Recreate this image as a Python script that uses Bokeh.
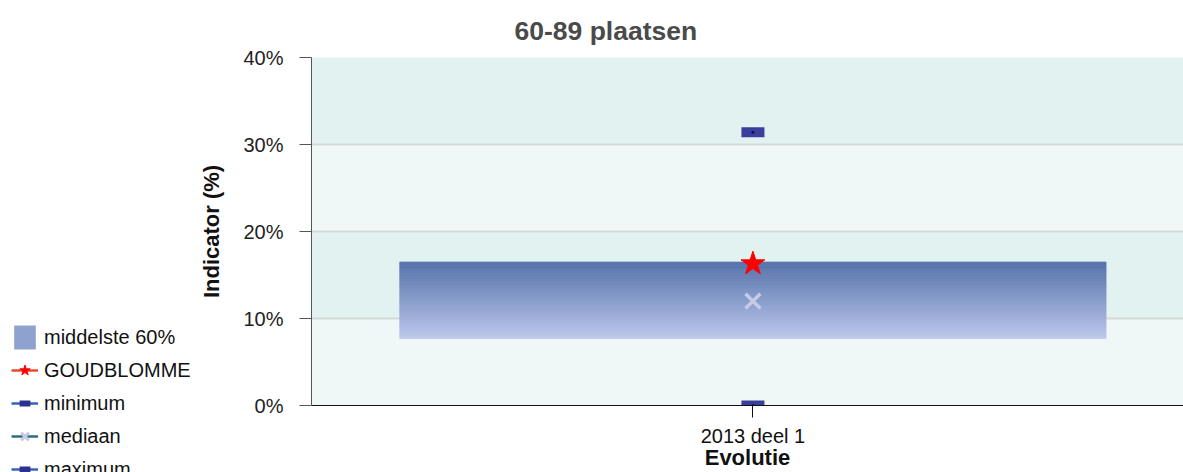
from bokeh.plotting import figure
from bokeh.layouts import row
from bokeh.models import (Range1d, FixedTicker, PrintfTickFormatter, Legend, LegendItem,
                          ColumnDataSource, Title)
from bokeh.embed import file_html
from bokeh.resources import INLINE

# ---- data ----
categories = ["2013 deel 1"]
p20 = [7.7]          # bottom of middle 60%
p80 = [16.5]         # top of middle 60%
goudblomme = [16.3]
minimum = [0.0]
mediaan = [12.0]
maximum = [31.4]
y_ticks = [0, 10, 20, 30, 40]

FONT = "Liberation Sans"
x = list(range(len(categories)))

LEG_W = 195
p = figure(width=1183 - LEG_W, height=472, output_backend="svg", toolbar_location=None,
           x_range=Range1d(-0.5, 0.4877), y_range=Range1d(0, 40),
           min_border_left=311 - LEG_W, min_border_right=0, min_border_top=57, min_border_bottom=66)
p.outline_line_color = None
p.background_fill_color = "#f0f8f7"
p.border_fill_color = "white"

t = Title(text="60-89 plaatsen", align="left", offset=203, text_font=FONT,
          text_font_size="26.5px", text_font_style="bold", text_color="#4a4a4a",
          standoff=20, vertical_align="top")
p.add_layout(t, "above")

# grid and bands
p.xgrid.visible = False
p.ygrid.grid_line_color = "#d6d9d9"
p.ygrid.grid_line_width = 2
p.ygrid.band_fill_color = "#e2f2f1"
p.ygrid.band_fill_alpha = 1.0

# axes
p.yaxis.ticker = FixedTicker(ticks=y_ticks)
p.yaxis.formatter = PrintfTickFormatter(format="%d%%")
p.yaxis.minor_tick_line_color = None
p.yaxis.major_tick_out = 12
p.yaxis.major_tick_in = 0
p.yaxis.major_tick_line_color = "#555555"
p.yaxis.axis_line_color = "#555555"
p.yaxis.major_label_text_font = FONT
p.yaxis.major_label_text_font_size = "20px"
p.yaxis.major_label_text_color = "#222222"
p.yaxis.major_label_standoff = 16
p.yaxis.axis_label = "Indicator (%)"
p.yaxis.axis_label_text_font = FONT
p.yaxis.axis_label_text_font_size = "22px"
p.yaxis.axis_label_text_font_style = "bold"
p.yaxis.axis_label_text_color = "#111111"
p.yaxis.axis_label_standoff = 16

p.xaxis.ticker = FixedTicker(ticks=x)
p.xaxis.major_label_overrides = {i: c for i, c in zip(x, categories)}
p.xaxis.minor_tick_line_color = None
p.xaxis.major_tick_out = 12
p.xaxis.major_tick_in = 0
p.xaxis.major_tick_line_color = "#111111"
p.xaxis.axis_line_color = "#111111"
p.xaxis.major_label_text_font = FONT
p.xaxis.major_label_text_font_size = "20px"
p.xaxis.major_label_text_color = "#111111"
p.xaxis.major_label_standoff = 7
p.xaxis.axis_label = "Evolutie"
p.xaxis.axis_label_text_font = FONT
p.xaxis.axis_label_text_font_size = "22px"
p.xaxis.axis_label_text_font_style = "bold"
p.xaxis.axis_label_text_color = "#111111"
p.xaxis.axis_label_standoff = -5

# gradient bar (middle 60%) as stacked slices
N = 90
top_rgb = (84, 112, 170)
bot_rgb = (188, 200, 235)
for i in range(len(categories)):
    lo, hi = p20[i], p80[i]
    bottoms, tops, colors = [], [], []
    for k in range(N):
        b = lo + (hi - lo) * k / N
        tt = lo + (hi - lo) * (k + 1) / N
        f = (k + 0.5) / N
        c = tuple(int(round(bot_rgb[j] + (top_rgb[j] - bot_rgb[j]) * f)) for j in range(3))
        bottoms.append(b)
        tops.append(tt)
        colors.append("#%02x%02x%02x" % c)
    p.vbar(x=[x[i]] * N, width=0.8, bottom=bottoms, top=tops, fill_color=colors,
           line_color=colors, line_width=0.6)

# min / max markers
for vals in (minimum, maximum):
    p.rect(x=x, y=vals, width=23, height=10, width_units="screen", height_units="screen",
           fill_color="#3a3f9c", line_color=None)
    p.scatter(x=x, y=vals, size=3, marker="circle", fill_color="#0c0c66", line_color=None)

# median and goudblomme
p.scatter(x=x, y=mediaan, marker="x", size=21, line_width=3.5, line_color="#c6cae6")
p.scatter(x=x, y=goudblomme, marker="star", size=25, fill_color="#ff0000", line_color="#ff0000")

# ---- legend panel (separate figure on the left) ----
lf = figure(width=LEG_W, height=472, output_backend="svg", toolbar_location=None,
            x_range=Range1d(0, 1), y_range=Range1d(0, 1), min_border=0,
            x_axis_location=None, y_axis_location=None)
lf.frame_align = False
lf.outline_line_color = None
lf.grid.visible = False
lf.background_fill_color = "white"
lf.border_fill_color = "white"

off = dict(x=[-10, -9], y=[-10, -9])   # legend-only renderers, outside the visible range
def src():
    return ColumnDataSource(off)

r_band = lf.quad(left="x", right="x", bottom="y", top="y", source=src(),
                 fill_color="#8fa1cf", line_color=None)
r_g_line = lf.line(x="x", y="y", source=src(), line_color="#e84a2e", line_width=2.5)
r_g_mark = lf.scatter(x="x", y="y", source=src(), marker="star", size=14,
                      fill_color="#ff0000", line_color="#ff0000")
r_min_line = lf.line(x="x", y="y", source=src(), line_color="#3a62b4", line_width=2.5)
r_min_mark = lf.scatter(x="x", y="y", source=src(), marker="dash", size=12,
                        line_color="#2c3090", line_width=6)
r_med_line = lf.line(x="x", y="y", source=src(), line_color="#2f6f78", line_width=2.5)
r_med_mark = lf.scatter(x="x", y="y", source=src(), marker="x", size=12,
                        line_width=3, line_color="#c6cae6")
r_max_line = lf.line(x="x", y="y", source=src(), line_color="#3a62b4", line_width=2.5)
r_max_mark = lf.scatter(x="x", y="y", source=src(), marker="dash", size=12,
                        line_color="#2c3090", line_width=6)

legend = Legend(items=[
    LegendItem(label="middelste 60%", renderers=[r_band]),
    LegendItem(label="GOUDBLOMME", renderers=[r_g_line, r_g_mark]),
    LegendItem(label="minimum", renderers=[r_min_line, r_min_mark]),
    LegendItem(label="mediaan", renderers=[r_med_line, r_med_mark]),
    LegendItem(label="maximum", renderers=[r_max_line, r_max_mark]),
], location=(11, -12), background_fill_alpha=0, border_line_color=None,
    padding=0, margin=0, spacing=3, glyph_width=27, glyph_height=30, label_height=30,
    label_standoff=6, label_text_font=FONT, label_text_font_size="20px",
    label_text_color="#111111")
lf.add_layout(legend, "center")

layout = row(lf, p)
open("out.html", "w").write(file_html(layout, INLINE))
